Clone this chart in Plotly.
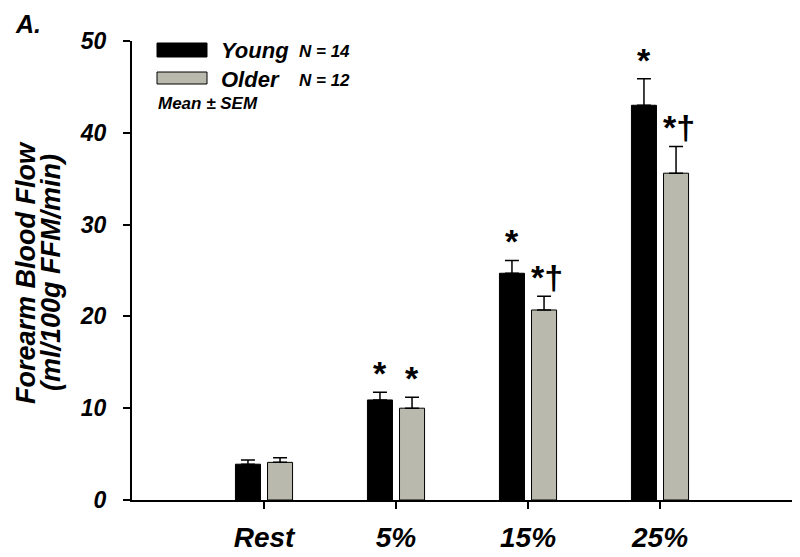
import plotly.graph_objects as go

categories = ["Rest", "5%", "15%", "25%"]
young_mean = [3.9, 10.9, 24.7, 43.0]
young_sem = [0.45, 0.85, 1.4, 2.9]
older_mean = [4.1, 10.0, 20.7, 35.6]
older_sem = [0.5, 1.2, 1.5, 2.9]
young_marks = ["", "*", "*", "*"]
older_marks = ["", "*", "*†", "*†"]
y_ticks = [0, 10, 20, 30, 40, 50]

FONT = "Liberation Sans, Arial, sans-serif"
W, H = 800, 557
OX, OY = 8, 8  # page body margin offset
# plot area in screen pixels
SL, SR, ST, SB = 132, 792, 41, 500
L, T = SL - OX, ST - OY
R, B = W - (SR - OX), H - (SB - OY)
PW, PH = SR - SL, SB - ST

def px(x):
    return (x - SL) / PW

def py(y):
    return (SB - y) / PH

BARGAP = 0.514
GROUPGAP = 0.22
OFF = (1 - BARGAP) / 4

fig = go.Figure()
fig.add_trace(go.Bar(
    x=categories, y=young_mean, name="Young",
    marker=dict(color="#000000", line=dict(color="#000000", width=1)),
    error_y=dict(type="data", array=young_sem, arrayminus=[0] * 4, symmetric=False,
                 color="#000000", thickness=1.5, width=7),
))
fig.add_trace(go.Bar(
    x=categories, y=older_mean, name="Older",
    marker=dict(color="#b9b9ad", line=dict(color="#000000", width=1)),
    error_y=dict(type="data", array=older_sem, arrayminus=[0] * 4, symmetric=False,
                 color="#000000", thickness=1.5, width=7),
))

mark_font = dict(family=FONT, size=34, color="black", weight="bold")
annotations = []
for i, (m, s, t) in enumerate(zip(young_mean, young_sem, young_marks)):
    if t:
        annotations.append(dict(x=i - OFF, y=m + s + 2.3, xref="x", yref="y", text=t,
                                showarrow=False, yanchor="middle", yshift=-2,
                                font=mark_font))
for i, (m, s, t) in enumerate(zip(older_mean, older_sem, older_marks)):
    if t:
        annotations.append(dict(x=i + OFF, y=m + s + 2.3, xref="x", yref="y", text=t,
                                showarrow=False, yanchor="middle", yshift=-2,
                                xshift=(3 if len(t) > 1 else 0),
                                font=mark_font))

bi = dict(family=FONT, color="black", weight="bold", style="italic")
annotations += [
    dict(x=px(13), y=py(OY), xref="paper", yref="paper", text="A.", showarrow=False,
         xanchor="left", yanchor="top", font=dict(size=25, **bi)),
    dict(x=px(26), y=py(273), xref="paper", yref="paper",
         text="Forearm Blood Flow", showarrow=False, textangle=-90,
         xanchor="center", yanchor="middle", font=dict(size=27, **bi)),
    dict(x=px(51), y=py(273), xref="paper", yref="paper",
         text="(ml/100g FFM/min)", showarrow=False, textangle=-90,
         xanchor="center", yanchor="middle", font=dict(size=27, **bi)),
    dict(x=px(219), y=py(51), xref="paper", yref="paper", text="Young", showarrow=False,
         xanchor="left", yanchor="middle", font=dict(size=22, **bi)),
    dict(x=px(297), y=py(52), xref="paper", yref="paper", text="N = 14", showarrow=False,
         xanchor="left", yanchor="middle", font=dict(size=17, **bi)),
    dict(x=px(219), y=py(79), xref="paper", yref="paper", text="Older", showarrow=False,
         xanchor="left", yanchor="middle", font=dict(size=22, **bi)),
    dict(x=px(297), y=py(80), xref="paper", yref="paper", text="N = 12", showarrow=False,
         xanchor="left", yanchor="middle", font=dict(size=17, **bi)),
    dict(x=px(156), y=py(104), xref="paper", yref="paper", text="Mean ± SEM", showarrow=False,
         xanchor="left", yanchor="middle", font=dict(size=17, **bi)),
]

shapes = [
    dict(type="rect", xref="paper", yref="paper", x0=px(157), x1=px(207), y0=py(57), y1=py(43),
         fillcolor="#000000", line=dict(color="#000000", width=1)),
    dict(type="rect", xref="paper", yref="paper", x0=px(157), x1=px(207), y0=py(84), y1=py(72),
         fillcolor="#b9b9ad", line=dict(color="#000000", width=1)),
]

fig.update_layout(
    width=W, height=H,
    margin=dict(l=L, r=R, t=T, b=B, autoexpand=False),
    paper_bgcolor="white", plot_bgcolor="white",
    barmode="group", bargap=BARGAP, bargroupgap=GROUPGAP,
    showlegend=False,
    annotations=annotations, shapes=shapes,
    xaxis=dict(range=[-1, 4], showline=True, linecolor="black", linewidth=2,
               ticks="outside", ticklen=7, tickwidth=2, tickcolor="black",
               showgrid=False, zeroline=False, ticklabelstandoff=4,
               tickfont=dict(size=28, **bi)),
    yaxis=dict(range=[0, 50], tickvals=y_ticks, showline=True, linecolor="black", linewidth=2,
               ticks="outside", ticklen=7, tickwidth=2, tickcolor="black",
               showgrid=False, zeroline=False, ticklabelstandoff=12,
               tickfont=dict(size=23, **bi)),
)

fig.write_html("out.html")
